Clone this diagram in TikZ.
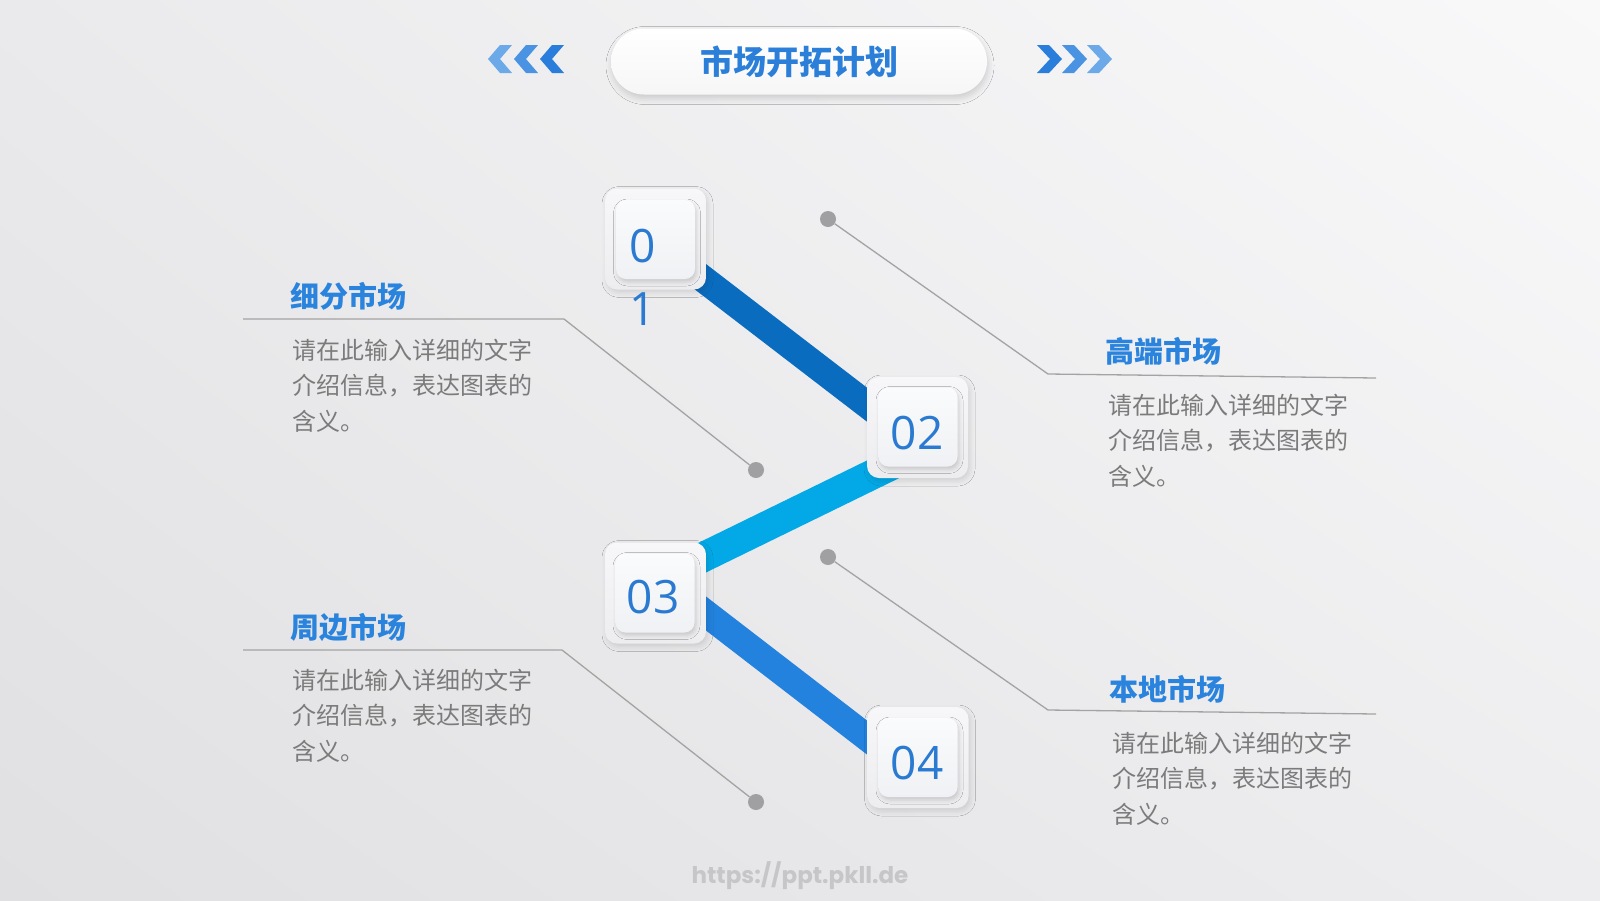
\documentclass[tikz,border=0pt]{standalone}
\usepackage{fontspec}
\newfontfamily\cjk{Noto Sans CJK SC}
\newfontfamily\digitfont{Open Sans}
\newfontfamily\wmfont{Poppins}
\usetikzlibrary{shadows.blur,calc,shadings}
\definecolor{bgul}{HTML}{EAEAEC}
\definecolor{bgur}{HTML}{F9F9FA}
\definecolor{bgll}{HTML}{E0E0E2}
\definecolor{bglr}{HTML}{EDEDEF}
\definecolor{titleblue}{HTML}{2B7FD8}
\definecolor{headblue}{HTML}{2A83DC}
\definecolor{bodygray}{HTML}{7B7B7B}
\definecolor{digitblue}{HTML}{2A7AD2}
\definecolor{barA}{HTML}{0A6CBF}
\definecolor{barB}{HTML}{03A8E6}
\definecolor{barC}{HTML}{2282DE}
\definecolor{chevD}{HTML}{2A7EDB}
\definecolor{chevM}{HTML}{4A93E2}
\definecolor{chevL}{HTML}{6CA9E9}
\definecolor{linegray}{HTML}{A3A3A3}
\definecolor{dotgray}{HTML}{A0A0A2}
\definecolor{wmgray}{HTML}{C6C6C8}
\definecolor{boxtop}{HTML}{F7F7F9}
\definecolor{boxbot}{HTML}{EDEDF0}
\definecolor{intop}{HTML}{FAFBFC}
\definecolor{inbot}{HTML}{F0F1F4}
\tikzset{
  leader/.style={draw=linegray, line width=1.3pt},
  dotmark/.style={circle, fill=dotgray, minimum size=16pt, inner sep=0pt},
  outerbox/.style={rounded corners=12pt, minimum width=101pt, minimum height=101pt, inner sep=0pt,
    top color=boxtop, bottom color=boxbot,
    blur shadow={shadow xshift=2pt, shadow yshift=-3pt, shadow blur radius=5pt, shadow opacity=12}},
  innerbox/.style={rounded corners=10pt, minimum width=79pt, minimum height=79pt, inner sep=0pt,
    top color=intop, bottom color=inbot,
    blur shadow={shadow xshift=1.5pt, shadow yshift=-3pt, shadow blur radius=4pt, shadow opacity=16}},
  digit/.style={font=\digitfont\fontsize{46}{63}\selectfont, text=digitblue, inner sep=0pt},
  head/.style={font=\cjk\bfseries\fontsize{29}{35}\selectfont, text=headblue, anchor=base west, inner sep=0pt},
  body/.style={font=\cjk\fontsize{24}{35.5}\selectfont, text=bodygray, anchor=base west, align=left, inner sep=0pt},
  bar/.style={line width=27pt},
  titlepill/.style={rounded corners=33pt, minimum width=376pt, minimum height=66pt, inner sep=0pt,
    top color=white, bottom color=gray!7,
    font=\cjk\bfseries\fontsize{33}{40}\selectfont, text=titleblue,
    blur shadow={shadow xshift=1pt, shadow yshift=-4pt, shadow blur radius=6pt, shadow opacity=15}},
}
\begin{document}
\begin{tikzpicture}[x=1pt,y=-1pt]
\useasboundingbox (0,0) rectangle (1600,900);
\shade[upper left=bgul, upper right=bgur, lower left=bgll, lower right=bglr] (0,0) rectangle (1600,900);

% title
\node[titlepill] (title) at (799,61.5) {市场开拓计划};
% chevrons left (pointing left)
\foreach \x/\c in {488/chevL, 514/chevM, 540/chevD}{
  \fill[\c] (\x,59) -- (\x+12,45) -- (\x+24,45) -- (\x+12,59) -- (\x+24,73) -- (\x+12,73) -- cycle;
}
% chevrons right (pointing right)
\foreach \x/\c in {1037/chevD, 1062/chevM, 1087/chevL}{
  \fill[\c] (\x,45) -- (\x+12,45) -- (\x+25,59) -- (\x+12,73) -- (\x,73) -- (\x+13,59) -- cycle;
}

% bars
\coordinate (s1) at (676,258);   \coordinate (e1) at (900,430);
\coordinate (s2) at (680,568.5); \coordinate (e2) at (900,461);
\coordinate (s3) at (676,590.4); \coordinate (e3) at (900,762.9);
\draw[bar, draw=barA] (s1) -- (e1);
\draw[bar, draw=barB, line width=30pt] (s2) -- (e2);
\draw[bar, draw=barC] (s3) -- (e3);

% boxes
\node[outerbox] (b1) at (655.5,239) {};
\node[innerbox] (b1i) at (655.5,239.5) {};
\node[outerbox] (b2) at (917.5,427.5) {};
\node[innerbox] (b2i) at (918,427) {};
\node[outerbox] (b3) at (655.5,593) {};
\node[innerbox] (b3i) at (655,593) {};
\node[outerbox] (b4) at (918,757.5) {};
\node[innerbox] (b4i) at (918,757.5) {};

\node[digit, anchor=base west, align=left] (n1) at (629,325) {0\\1};
\node[digit, anchor=base] (n2) at (917,449) {02};
\node[digit, anchor=base] (n3) at (653,613) {03};
\node[digit, anchor=base] (n4) at (917,779) {04};

% leader lines and dots
\node[dotmark] (d1) at (756,470) {};
\node[dotmark] (d2) at (828,219) {};
\node[dotmark] (d3) at (756,802) {};
\node[dotmark] (d4) at (828,557) {};
\coordinate (k1) at (564,319);  \coordinate (h1) at (243,319);
\coordinate (k2) at (1048,374); \coordinate (h2) at (1376,378);
\coordinate (k3) at (562,650);  \coordinate (h3) at (243,650);
\coordinate (k4) at (1048,710); \coordinate (h4) at (1376,714);
\draw[leader] (d1) -- (k1) -- (h1);
\draw[leader] (d2) -- (k2) -- (h2);
\draw[leader] (d3) -- (k3) -- (h3);
\draw[leader] (d4) -- (k4) -- (h4);

% texts
\node[head] (t1) at (290,307) {细分市场};
\node[body] (p1) at (292,430) {请在此输入详细的文字\\介绍信息，表达图表的\\含义。};
\node[head] (t2) at (1105,362) {高端市场};
\node[body] (p2) at (1108,485) {请在此输入详细的文字\\介绍信息，表达图表的\\含义。};
\node[head] (t3) at (290,638) {周边市场};
\node[body] (p3) at (292,760) {请在此输入详细的文字\\介绍信息，表达图表的\\含义。};
\node[head] (t4) at (1109,700) {本地市场};
\node[body] (p4) at (1112,823) {请在此输入详细的文字\\介绍信息，表达图表的\\含义。};

% watermark
\node[font=\wmfont\bfseries\fontsize{23}{27}\selectfont, text=wmgray, inner sep=0pt] (wm) at (800,876) {https://ppt.pkll.de};
\end{tikzpicture}
\end{document}
